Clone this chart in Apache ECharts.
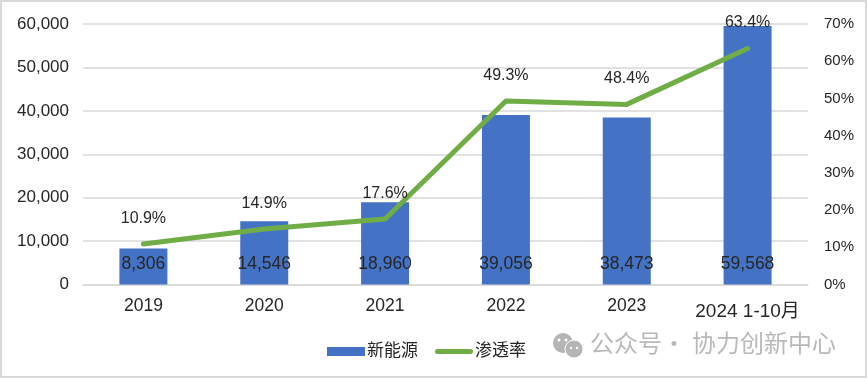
<!DOCTYPE html>
<html>
<head>
<meta charset="utf-8">
<style>
  html, body { margin: 0; padding: 0; background: #fff; }
  #chart { width: 867px; height: 379px; }
</style>
<script src="https://cdn.jsdelivr.net/npm/echarts@6/dist/echarts.min.js"></script>
</head>
<body>
<div id="chart"></div>
<script>
var categories = ["2019", "2020", "2021", "2022", "2023", "2024 1-10月"];
var sales = [8306, 14546, 18960, 39056, 38473, 59568];
var rate = [10.9, 14.9, 17.6, 49.3, 48.4, 63.4];
var salesTicks = { max: 60000, interval: 10000 };
var rateTicks = { max: 70, interval: 10 };

var font = '"Liberation Sans", "Noto Sans CJK SC", sans-serif';
var cjkFont = '"Noto Sans CJK SC", sans-serif';
var textColor = "#262626";
var markColor = "#b9b9b9";
var chart = echarts.init(document.getElementById("chart"));

chart.setOption({
  animation: false,
  backgroundColor: "#fff",
  textStyle: { fontFamily: font },
  grid: { left: 83, right: 59, top: 24, bottom: 94.5 },
  legend: {
    left: 322,
    top: 338,
    itemGap: 17,
    itemWidth: 38,
    itemHeight: 9,
    textStyle: { color: textColor, fontSize: 17, fontFamily: font, padding: [0, 0, 0, -3] },
    data: [
      { name: "新能源", icon: "rect" },
      { name: "渗透率", icon: "path://M2.5 0H35.5A2.5 2.5 0 0 1 35.5 5H2.5A2.5 2.5 0 0 1 2.5 0Z", itemStyle: { color: "#70ad47" } }
    ]
  },
  xAxis: {
    type: "category",
    data: categories.map(function (c) {
      // 最后一个类别带中文，字号和位置略有不同
      if (c.indexOf("月") > 0) {
        return { value: c, textStyle: { fontSize: 19, padding: [5, 0, 0, 0] } };
      }
      return c;
    }),
    axisTick: { show: false },
    axisLine: { lineStyle: { color: "#d9d9d9", width: 1.5 } },
    axisLabel: { interval: 0, color: textColor, fontSize: 17.5, margin: 13, fontFamily: font }
  },
  yAxis: [
    {
      type: "value",
      min: 0,
      max: salesTicks.max,
      interval: salesTicks.interval,
      axisLine: { show: false },
      axisTick: { show: false },
      splitLine: { lineStyle: { color: "#d9d9d9", width: 1.5 } },
      axisLabel: {
        color: textColor,
        fontSize: 17,
        margin: 14,
        padding: [2, 0, 0, 0],
        fontFamily: font,
        formatter: function (v) { return v.toLocaleString("en-US"); }
      }
    },
    {
      type: "value",
      min: 0,
      max: rateTicks.max,
      interval: rateTicks.interval,
      axisLine: { show: false },
      axisTick: { show: false },
      splitLine: { show: false },
      axisLabel: { color: textColor, fontSize: 15, margin: 16, padding: [3, 0, 0, 0], fontFamily: font, formatter: "{value}%" }
    }
  ],
  series: [
    {
      name: "新能源",
      type: "bar",
      data: sales,
      barWidth: 48,
      itemStyle: { color: "#4472c4" },
      label: {
        show: true,
        position: "insideBottom",
        distance: 12,
        color: textColor,
        fontSize: 17.5,
        fontFamily: font,
        formatter: function (p) { return p.value.toLocaleString("en-US"); }
      }
    },
    {
      name: "渗透率",
      type: "line",
      yAxisIndex: 1,
      data: rate,
      symbol: "circle",
      symbolSize: 1,
      lineStyle: { color: "#70ad47", width: 5, cap: "round", join: "round" },
      itemStyle: { color: "#70ad47" },
      z: 3,
      label: {
        show: true,
        position: "top",
        distance: 17,
        color: textColor,
        fontSize: 16,
        fontFamily: font,
        formatter: "{c}%"
      }
    }
  ],
  graphic: [
    { type: "rect", silent: true,
      shape: { x: 1, y: 1, width: 865, height: 376 },
      style: { fill: "none", stroke: "#d9d9d9", lineWidth: 2 } },
    // 水印
    { type: "circle", silent: true, shape: { cx: 563, cy: 343, r: 10 }, style: { fill: "#b5b5b5" } },
    { type: "circle", silent: true, shape: { cx: 574, cy: 349, r: 9 }, style: { fill: "#b5b5b5", stroke: "#fff", lineWidth: 1 } },
    { type: "circle", silent: true, shape: { cx: 559, cy: 340, r: 1.5 }, style: { fill: "#fff" } },
    { type: "circle", silent: true, shape: { cx: 566, cy: 340, r: 1.5 }, style: { fill: "#fff" } },
    { type: "circle", silent: true, shape: { cx: 571, cy: 348, r: 1.2 }, style: { fill: "#fff" } },
    { type: "circle", silent: true, shape: { cx: 577, cy: 348, r: 1.2 }, style: { fill: "#fff" } },
    { type: "text", silent: true, left: 590, top: 331,
      style: { text: "公众号", fill: markColor, fontSize: 24, fontFamily: cjkFont } },
    { type: "text", silent: true, left: 662, top: 331,
      style: { text: "·", fill: markColor, fontSize: 24, fontFamily: cjkFont } },
    { type: "text", silent: true, left: 692, top: 331,
      style: { text: "协力创新中心", fill: markColor, fontSize: 24, fontFamily: cjkFont } }
  ]
});
</script>
</body>
</html>
